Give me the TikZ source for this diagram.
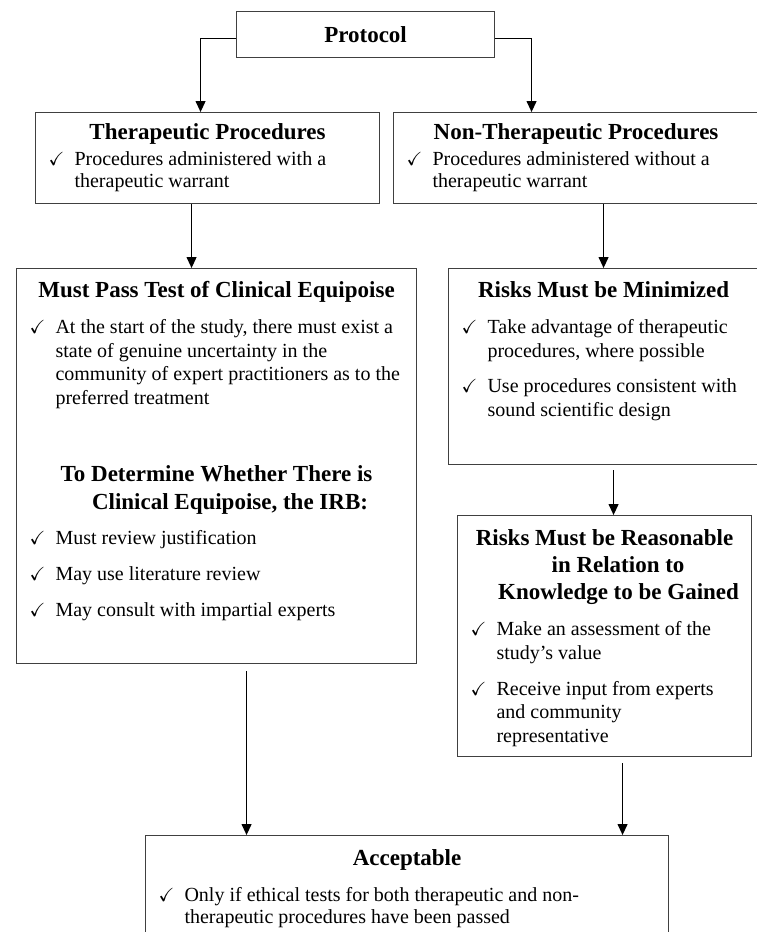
\documentclass[tikz,border=0pt]{standalone}
\usepackage{amssymb}
\usepackage{fontspec}
\setmainfont{Liberation Serif}
\usetikzlibrary{arrows.meta}

% box contents: [line skip]{width}{height}{text}
\newcommand{\boxbody}[4][23.7pt]{%
  \parbox[c][#3][t]{#2}{\fontsize{20pt}{#1}\selectfont
    \parskip=0pt\lineskiplimit=-50pt #4}}
\newcommand{\ttl}[2][27pt]{\par{\centering\fontsize{23pt}{#1}\selectfont\bfseries #2\par}}
\newcommand{\chk}[1]{\par{\raggedright\let\\\newline\leftskip=13pt\hangindent=26pt\hangafter=1
  \noindent\makebox[26pt][l]{\fontsize{19pt}{19pt}\selectfont$\checkmark$}#1\par}}

\begin{document}
\begin{tikzpicture}[
  x=1pt, y=-1pt,
  block/.style={draw=black!75, line width=1.1pt, inner sep=0pt, anchor=north west},
  flow/.style={-{Triangle[length=11pt,width=10pt]}, line width=1.1pt}
]
\useasboundingbox (0,0) rectangle (757,932);
\clip (0,0) rectangle (757,932);

\node[block, minimum width=258pt, minimum height=46pt,
  font=\fontsize{23pt}{27pt}\selectfont\bfseries] (proto) at (236,11) {Protocol};

\node[block] (ther) at (35,112) {\boxbody[21.5pt]{344pt}{91pt}{%
  \ttl{\rule{0pt}{26.5pt}Therapeutic Procedures}
  \vspace{5pt}
  \chk{Procedures administered with a\\therapeutic warrant}}};
\node[block] (nonther) at (393,112) {\boxbody[21.5pt]{365pt}{91pt}{%
  \ttl{\rule{0pt}{26.5pt}Non-Therapeutic Procedures}
  \vspace{5pt}
  \chk{Procedures administered without a\\therapeutic warrant}}};

\node[block] (must) at (16,268) {\boxbody{400pt}{395pt}{%
  \ttl{\rule{0pt}{28.5pt}Must Pass Test of Clinical Equipoise}
  \vspace{12.8pt}
  \chk{At the start of the study, there must exist a\\state of genuine uncertainty in the\\community of expert practitioners as to the\\preferred treatment}
  \vspace{48.4pt}
  \ttl[28pt]{To Determine Whether There is\\\hspace*{27pt}Clinical Equipoise, the IRB:}
  \vspace{11.8pt}
  \chk{Must review justification}
  \vspace{12.3pt}
  \chk{May use literature review}
  \vspace{12.3pt}
  \chk{May consult with impartial experts}}};

\node[block] (riskmin) at (448,268) {\boxbody{310pt}{196pt}{%
  \ttl{\rule{0pt}{28.5pt}Risks Must be Minimized}
  \vspace{12.8pt}
  \chk{Take advantage of therapeutic\\procedures, where possible}
  \vspace{12pt}
  \chk{Use procedures consistent with\\sound scientific design}}};

\node[block] (reason) at (457,515) {\boxbody{294pt}{241pt}{%
  \ttl{\rule{0pt}{29.5pt}Risks Must be Reasonable\\\hspace*{27pt}in Relation to\\\hspace*{28pt}Knowledge to be Gained}
  \vspace{12.8pt}
  \chk{Make an assessment of the\\study's value}
  \vspace{12.3pt}
  \chk{Receive input from experts\\and community\\representative}}};

\node[block] (accept) at (145,835) {\boxbody[22pt]{523pt}{200pt}{%
  \ttl{\rule{0pt}{29.5pt}Acceptable}
  \vspace{14.5pt}
  \chk{Only if ethical tests for both therapeutic and non-\\therapeutic procedures have been passed}}};

\draw[flow] ([yshift=-4pt]proto.west) -| ([xshift=-7pt]ther.north);
\draw[flow] ([yshift=-4pt]proto.east) -| ([xshift=-44.5pt]nonther.north);
\draw[flow] ([xshift=-16pt]ther.south) -- ([xshift=-16pt]ther.south |- must.north);
\draw[flow] (riskmin.north |- nonther.south) -- (riskmin.north);
\draw[flow, shorten <=5pt] ([xshift=9pt]reason.north |- riskmin.south) -- ([xshift=9pt]reason.north);
\draw[flow, shorten <=7pt] ([xshift=30pt]must.south) -- ([xshift=30pt]must.south |- accept.north);
\draw[flow, shorten <=6pt] ([xshift=18pt]reason.south) -- ([xshift=18pt]reason.south |- accept.north);
\end{tikzpicture}
\end{document}
